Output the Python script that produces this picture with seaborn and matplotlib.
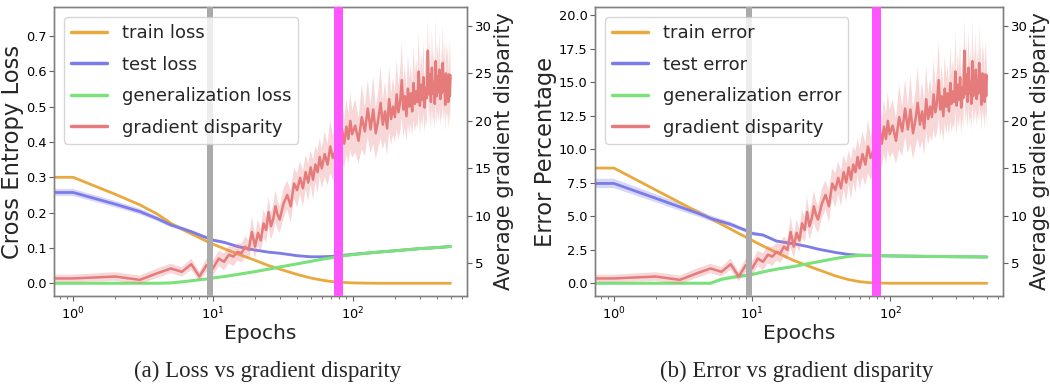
import matplotlib
matplotlib.use("Agg")
import matplotlib.pyplot as plt
import numpy as np
import pandas as pd
import seaborn as sns

# ---------------------------------------------------------------- data
# epochs at which the smooth curves are recorded (epoch 0 = before training)
curve_epochs = [0, 1, 2, 3, 4, 5, 6, 7, 8, 9, 10, 12, 15, 20, 25, 30, 40, 50,
                60, 70, 80, 100, 150, 200, 300, 400, 500]

train_loss = [0.300, 0.300, 0.252, 0.222, 0.196, 0.170, 0.153, 0.140, 0.129,
              0.119, 0.111, 0.098, 0.083, 0.065, 0.050, 0.040, 0.025, 0.015,
              0.009, 0.005, 0.003, 0.001, 0.000, 0.000, 0.000, 0.000, 0.000]
test_loss = [0.257, 0.257, 0.224, 0.203, 0.183, 0.165, 0.155, 0.146, 0.137,
             0.129, 0.122, 0.116, 0.104, 0.094, 0.088, 0.085, 0.078, 0.075,
             0.075, 0.076, 0.078, 0.082, 0.088, 0.092, 0.098, 0.101, 0.104]
test_loss_sd = [0.010, 0.010, 0.009, 0.008, 0.007, 0.006, 0.006, 0.005, 0.005,
                0.005, 0.005, 0.004, 0.004, 0.003, 0.003, 0.003, 0.003, 0.003,
                0.003, 0.003, 0.003, 0.003, 0.003, 0.003, 0.003, 0.003, 0.003]
gen_loss = [0.000, 0.000, 0.000, 0.000, 0.000, 0.001, 0.004, 0.007, 0.010,
            0.012, 0.015, 0.019, 0.025, 0.033, 0.040, 0.046, 0.055, 0.062,
            0.068, 0.072, 0.076, 0.081, 0.088, 0.092, 0.098, 0.101, 0.104]
gen_loss_sd = [0.002, 0.002, 0.002, 0.002, 0.002, 0.002, 0.003, 0.003, 0.003,
               0.003, 0.003, 0.003, 0.003, 0.003, 0.003, 0.003, 0.003, 0.003,
               0.003, 0.003, 0.003, 0.003, 0.003, 0.003, 0.003, 0.003, 0.003]

train_err = [8.60, 8.60, 6.97, 6.02, 5.35, 4.83, 4.40, 4.04, 3.72, 3.45, 3.20,
             2.78, 2.30, 1.70, 1.32, 1.02, 0.55, 0.27, 0.12, 0.05, 0.02, 0.00,
             0.00, 0.00, 0.00, 0.00, 0.00]
test_err = [7.45, 7.45, 6.35, 5.70, 5.25, 4.85, 4.60, 4.40, 4.15, 3.95, 3.72,
            3.60, 3.15, 2.95, 2.75, 2.55, 2.30, 2.15, 2.10, 2.08, 2.06, 2.04,
            2.02, 2.00, 1.98, 1.97, 1.96]
test_err_sd = [0.35, 0.35, 0.30, 0.28, 0.25, 0.22, 0.20, 0.18, 0.16, 0.15, 0.14,
               0.12, 0.10, 0.08, 0.06, 0.06, 0.06, 0.06, 0.06, 0.06, 0.06, 0.06,
               0.06, 0.06, 0.06, 0.06, 0.06]
gen_err = [0.00, 0.00, 0.00, 0.00, 0.00, 0.00, 0.30, 0.42, 0.52, 0.58, 0.65,
           0.85, 1.05, 1.25, 1.45, 1.60, 1.85, 2.00, 2.08, 2.08, 2.06, 2.04,
           2.02, 2.00, 1.98, 1.97, 1.96]
gen_err_sd = [0.05, 0.05, 0.05, 0.05, 0.05, 0.08, 0.15, 0.15, 0.15, 0.14, 0.12,
              0.10, 0.08, 0.06, 0.05, 0.05, 0.05, 0.05, 0.05, 0.05, 0.05, 0.05,
              0.05, 0.05, 0.05, 0.05, 0.05]

# gradient disparity, recorded densely (shared by both panels)
disp_epochs = (list(range(0, 31)) + list(range(32, 61, 2))
               + list(range(63, 100, 3)) + list(range(104, 501, 6)))
disparity = [
    3.4, 3.4, 3.6, 3.25, 3.95, 4.45, 4.1, 4.9, 3.6, 4.8, 4.45, 5.5, 5.15, 5.9,
    5.7, 6.2, 6.05, 6.75, 6.4, 8.3, 6.75, 8.2, 7.4, 9.2, 8.5, 10.4, 8.9, 9.7,
    11.0, 10.1, 9.6,
    11.3, 12.2, 11.0, 13.4, 12.7, 14.0, 12.9, 14.6, 13.5, 15.1, 13.8, 15.4,
    14.6, 16.2, 15.0,
    16.5, 15.4, 17.3, 16.1, 16.8, 18.2, 17.0, 19.0, 17.6, 19.4, 18.1, 20.0,
    18.6,
    19.5, 17.9, 20.4, 18.9, 21.3, 19.1, 21.2, 18.7, 20.1, 21.9,
    19.6, 21.0, 19.2, 22.3, 20.2, 21.5, 20.4, 22.8, 20.9, 22.0,
    24.3, 21.2, 22.6, 20.5, 23.4, 21.5, 22.9, 21.0, 24.0, 21.8,
    23.1, 22.0, 25.2, 21.6, 23.8, 22.2, 24.6, 21.4, 23.5, 22.4,
    27.4, 22.8, 24.9, 22.0, 25.6, 22.9, 24.1, 21.8, 26.3, 22.6,
    24.7, 23.0, 25.4, 22.3, 24.2, 22.9, 26.1, 23.2, 24.8, 21.7,
    25.0, 23.4, 24.4, 22.0, 24.9, 22.6, 24.8,
]
disparity_sd = [
    0.4, 0.4, 0.45, 0.45, 0.5, 0.5, 0.5, 0.6, 0.5, 0.7, 0.8, 0.8, 0.9, 0.9,
    1.0, 0.9, 1.0, 1.1, 1.0, 1.6, 1.2, 1.4, 1.2, 1.5, 1.3, 1.6, 1.4, 1.5, 1.7,
    1.5, 1.4,
    1.6, 1.5, 1.7, 1.6, 1.8, 1.7, 1.9, 1.8, 2.0, 1.8, 2.1, 1.9, 2.2, 2.0, 2.1,
    2.4, 2.2, 2.8, 2.3, 2.6, 3.0, 2.4, 3.2, 2.5, 2.9, 2.6, 3.1, 2.5,
    2.8, 2.4, 3.4, 2.6, 3.0, 2.5, 3.6, 2.7, 2.9, 3.8,
    2.6, 3.1, 2.8, 3.5, 2.7, 3.0, 2.6, 3.7, 2.8, 3.2,
    4.0, 2.9, 3.3, 2.7, 3.6, 2.9, 3.1, 2.6, 3.9, 3.0,
    3.4, 2.8, 4.2, 3.0, 3.5, 2.9, 3.8, 2.7, 3.3, 3.0,
    3.2, 3.1, 3.7, 2.9, 4.1, 3.2, 3.5, 2.8, 4.3, 3.0,
    3.6, 3.1, 4.0, 2.9, 3.4, 3.0, 4.2, 3.1, 3.6, 2.8,
    3.7, 3.2, 3.5, 2.9, 3.8, 3.0, 3.4,
]

# highlighted epoch windows
early_window = (9, 10)
late_window = (74, 85)

loss_names = ["train loss", "test loss", "generalization loss", "gradient disparity"]
err_names = ["train error", "test error", "generalization error", "gradient disparity"]
captions = ["(a) Loss vs gradient disparity", "(b) Error vs gradient disparity"]

# ---------------------------------------------------------------- style
C_TRAIN = "#E9A93E"
C_TEST = "#7B7BEA"
C_GEN = "#7BE27B"
C_DISP = "#E57B7B"
C_GRAY = "#AAAAAA"
C_MAG = "#FF55FF"

sns.set_theme(style="ticks")
plt.rcParams["font.family"] = ["DejaVu Sans"]
plt.rcParams["axes.edgecolor"] = "#808080"
plt.rcParams["axes.linewidth"] = 1.0
plt.rcParams["xtick.color"] = "#606060"
plt.rcParams["ytick.color"] = "#606060"
plt.rcParams["xtick.labelcolor"] = "black"
plt.rcParams["ytick.labelcolor"] = "black"

fig = plt.figure(figsize=(10.5, 3.85), dpi=100)
ax_loss = fig.add_axes([0.0514, 0.2312, 0.3933, 0.7506])
ax_err = fig.add_axes([0.5667, 0.2312, 0.3886, 0.7506])


def draw_panel(ax, train, test, test_sd, gen, gen_sd, names, ylabel,
               ylim, yticks):
    ax2 = ax.twinx()
    df = pd.DataFrame({"epoch": curve_epochs, "train": train, "test": test,
                       "gen": gen})
    dd = pd.DataFrame({"epoch": disp_epochs, "disp": disparity})

    t = np.array(test)
    ts = np.array(test_sd)
    g = np.array(gen)
    gs = np.array(gen_sd)
    ax.fill_between(curve_epochs, t - ts, t + ts, color=C_TEST, alpha=0.3,
                    lw=0)
    ax.fill_between(curve_epochs, g - gs, g + gs, color=C_GEN, alpha=0.3,
                    lw=0)
    sns.lineplot(data=df, x="epoch", y="train", ax=ax, color=C_TRAIN, lw=2,
                 errorbar=None, label=names[0])
    sns.lineplot(data=df, x="epoch", y="test", ax=ax, color=C_TEST, lw=2,
                 errorbar=None, label=names[1])
    sns.lineplot(data=df, x="epoch", y="gen", ax=ax, color=C_GEN, lw=2.2,
                 errorbar=None, label=names[2])

    d = np.array(disparity)
    ds = np.array(disparity_sd)
    ax2.fill_between(disp_epochs, d - ds, d + ds, color=C_DISP, alpha=0.3,
                     lw=0)
    sns.lineplot(data=dd, x="epoch", y="disp", ax=ax2, color=C_DISP, lw=1.8,
                 errorbar=None, label=names[3])

    ax2.axvspan(*early_window, color=C_GRAY, lw=0, zorder=3)
    ax2.axvspan(*late_window, color=C_MAG, lw=0, zorder=3)

    for a in (ax, ax2):
        if a.get_legend() is not None:
            a.get_legend().remove()

    ax.set_xscale("log")
    ax.set_xlim(0.73, 655)
    ax.set_ylim(*ylim)
    ax.set_yticks(yticks)
    ax2.set_ylim(1.55, 32.0)
    ax2.set_yticks([5, 10, 15, 20, 25, 30])

    ax.set_xlabel("Epochs", fontsize=14.5, labelpad=1)
    ax.set_ylabel(ylabel, fontsize=16.3, labelpad=1)
    ax2.set_ylabel("Average gradient disparity", fontsize=15, labelpad=2)
    ax.tick_params(axis="both", labelsize=9.3, length=3.5, width=0.8)
    ax.tick_params(axis="x", which="minor", length=2, width=0.6)
    ax2.tick_params(axis="y", labelsize=9.5, length=3.5, width=0.8, pad=2)
    ax.tick_params(axis="y", pad=2)

    h1, l1 = ax.get_legend_handles_labels()
    h2, l2 = ax2.get_legend_handles_labels()
    leg = ax2.legend(h1 + h2, l1 + l2, loc="upper left", fontsize=13,
                     labelspacing=0.75, handlelength=2.0, framealpha=0.8,
                     borderaxespad=0.55)
    for ln in leg.get_lines():
        ln.set_linewidth(2.5)
    leg.set_zorder(10)


draw_panel(ax_loss, train_loss, test_loss, test_loss_sd, gen_loss,
           gen_loss_sd, loss_names, "Cross Entropy Loss", (-0.036, 0.782),
           [0.0, 0.1, 0.2, 0.3, 0.4, 0.5, 0.6, 0.7])
draw_panel(ax_err, train_err, test_err, test_err_sd, gen_err, gen_err_sd,
           err_names, "Error Percentage", (-0.95, 20.62),
           [0.0, 2.5, 5.0, 7.5, 10.0, 12.5, 15.0, 17.5, 20.0])

fig.text(268 / 1050, 1 - 371 / 385, captions[0], ha="center", va="center",
         fontsize=16.5, family=["Liberation Serif"])
fig.text(797 / 1050, 1 - 371 / 385, captions[1], ha="center", va="center",
         fontsize=16.5, family=["Liberation Serif"])

fig.savefig("out.png", dpi=100)
